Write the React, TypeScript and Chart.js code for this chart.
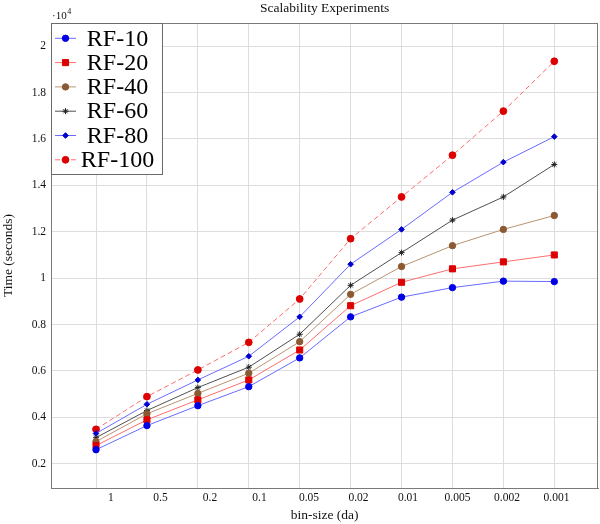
import React, { useEffect, useRef } from 'react';
import { Chart, registerables } from 'chart.js';
import { drawPoint } from 'chart.js/helpers';

Chart.register(...registerables);

// ---- data ----
const binSizes = ['1', '0.5', '0.2', '0.1', '0.05', '0.02', '0.01', '0.005', '0.002', '0.001'];
const seriesNames = ['RF-10', 'RF-20', 'RF-40', 'RF-60', 'RF-80', 'RF-100'];
const rf10 = [2600, 3640, 4500, 5320, 6560, 8330, 9180, 9590, 9870, 9850];
const rf20 = [2780, 3890, 4750, 5610, 6900, 8810, 9820, 10400, 10700, 11000];
const rf40 = [2950, 4150, 5030, 5900, 7260, 9300, 10500, 11400, 12100, 12700];
const rf60 = [3120, 4290, 5280, 6160, 7580, 9690, 11100, 12500, 13500, 14900];
const rf80 = [3300, 4560, 5610, 6630, 8330, 10600, 12100, 13700, 15000, 16100];
const rf100 = [3480, 4890, 6040, 7230, 9100, 11700, 13500, 15300, 17200, 19350];
const yTicks = [2000, 4000, 6000, 8000, 10000, 12000, 14000, 16000, 18000, 20000];

const FONT = '"Liberation Serif", "DejaVu Serif", serif';

type Style = {
  line: string;
  point: string;
  pointStyle: string;
  radius: number;
  dash: number[];
};

const styles: Style[] = [
  { line: '#6b6bff', point: '#0000e6', pointStyle: 'circle', radius: 3.2, dash: [] },
  { line: '#ff6e6e', point: '#dd0000', pointStyle: 'rect', radius: 4.3, dash: [] },
  { line: '#b89470', point: '#8c5a32', pointStyle: 'circle', radius: 3.2, dash: [] },
  { line: '#505050', point: '#202020', pointStyle: 'star', radius: 3, dash: [] },
  { line: '#6b6bff', point: '#0000d0', pointStyle: 'rectRot', radius: 2.8, dash: [] },
  { line: '#ff6e6e', point: '#dd0000', pointStyle: 'circle', radius: 3.4, dash: [5, 3] },
];

const allSeries = [rf10, rf20, rf40, rf60, rf80, rf100];

const decorPlugin = {
  id: 'decor',
  beforeDraw(chart: any) {
    const ctx = chart.ctx;
    ctx.save();
    ctx.fillStyle = '#ffffff';
    ctx.fillRect(0, 0, chart.width, chart.height);
    ctx.restore();
  },
  afterDatasetsDraw(chart: any) {
    const ctx = chart.ctx;
    const a = chart.chartArea;
    ctx.save();
    // plot frame
    ctx.strokeStyle = '#7a7a7a';
    ctx.lineWidth = 1;
    ctx.strokeRect(Math.round(a.left) + 0.5, Math.round(a.top) + 0.5, Math.round(a.right - a.left) - 1, Math.round(a.bottom - a.top));

    // title
    ctx.fillStyle = '#111';
    ctx.font = `13.5px ${FONT}`;
    ctx.textAlign = 'center';
    ctx.textBaseline = 'middle';
    ctx.fillText('Scalability Experiments', (a.left + a.right) / 2, 8);

    // ·10^4 multiplier
    ctx.textAlign = 'left';
    ctx.font = `11px ${FONT}`;
    ctx.fillText('·10', a.left + 1, 16);
    const w = ctx.measureText('·10').width;
    ctx.font = `8px ${FONT}`;
    ctx.fillText('4', a.left + 1 + w + 0.5, 12);

    // legend
    const lx = a.left;
    const ly = a.top;
    const lw = 111;
    const lh = 151;
    ctx.fillStyle = '#ffffff';
    ctx.fillRect(lx, ly, lw, lh);
    ctx.strokeStyle = '#6a6a6a';
    ctx.strokeRect(Math.round(lx) + 0.5, Math.round(ly) + 0.5, lw, lh);
    chart.data.datasets.forEach((ds: any, i: number) => {
      const s = styles[i];
      const y = ly + 15.3 + 24.3 * i;
      ctx.save();
      ctx.strokeStyle = s.line;
      ctx.lineWidth = 1;
      ctx.setLineDash(s.dash);
      ctx.beginPath();
      ctx.moveTo(lx + 4, y);
      ctx.lineTo(lx + 25, y);
      ctx.stroke();
      ctx.restore();
      ctx.save();
      ctx.fillStyle = s.point;
      ctx.strokeStyle = s.point;
      ctx.lineWidth = 1;
      drawPoint(ctx, { pointStyle: s.pointStyle, radius: s.radius, rotation: 0, borderWidth: 1 } as any, lx + 14.5, y);
      ctx.restore();
      ctx.fillStyle = '#000';
      ctx.font = `24px ${FONT}`;
      ctx.textAlign = 'center';
      ctx.textBaseline = 'middle';
      ctx.fillText(ds.label, lx + 66.5, y + 1);
    });
    ctx.restore();
  },
};

export default function App() {
  const ref = useRef<HTMLCanvasElement | null>(null);

  useEffect(() => {
    if (!ref.current) return;
    const datasets = allSeries.map((vals, i) => ({
      label: seriesNames[i],
      data: vals.map((v, j) => ({ x: j, y: v })),
      borderColor: styles[i].line,
      backgroundColor: styles[i].point,
      pointBackgroundColor: styles[i].point,
      pointBorderColor: styles[i].point,
      pointStyle: styles[i].pointStyle,
      pointRadius: styles[i].radius,
      pointHoverRadius: styles[i].radius,
      pointBorderWidth: 1,
      borderWidth: 1,
      borderDash: styles[i].dash,
      tension: 0,
      fill: false,
      xAxisID: 'x',
      yAxisID: 'y',
    }));

    const tickFont = { family: FONT, size: 11.5 };
    const titleFont = { family: FONT, size: 13.5 };

    const chart = new Chart(ref.current, {
      type: 'line',
      data: { datasets } as any,
      plugins: [decorPlugin],
      options: {
        animation: false,
        responsive: false,
        devicePixelRatio: 1,
        layout: { autoPadding: false, padding: { top: 23, right: 1.7, left: 0, bottom: 0 } },
        plugins: {
          legend: { display: false },
          title: { display: false },
          tooltip: { enabled: false },
        },
        scales: {
          x: {
            type: 'linear',
            position: 'bottom',
            min: -0.884,
            max: 9.864,
            afterBuildTicks: (s: any) => {
              s.ticks = binSizes.map((_, i) => ({ value: i }));
            },
            ticks: { display: false },
            grid: { color: '#dedede', lineWidth: 1, drawTicks: false },
            border: { display: true, color: '#7a7a7a' },
            afterFit: (s: any) => {
              s.height = 0;
            },
          },
          x2: {
            type: 'linear',
            position: 'bottom',
            min: -1.212,
            max: 9.845,
            afterBuildTicks: (s: any) => {
              s.ticks = binSizes.map((_, i) => ({ value: i }));
            },
            ticks: {
              callback: (v: any) => binSizes[v as number],
              font: tickFont,
              color: '#111',
              padding: 3,
              maxRotation: 0,
              autoSkip: false,
            },
            grid: { display: false, drawTicks: false },
            border: { display: false },
            title: {
              display: true,
              text: 'bin-size (da)',
              font: titleFont,
              color: '#111',
              padding: { top: 0, bottom: 0 },
            },
            afterFit: (s: any) => {
              s.height = 36;
            },
          },
          y: {
            type: 'linear',
            min: 950,
            max: 21000,
            afterBuildTicks: (s: any) => {
              s.ticks = yTicks.map((v) => ({ value: v }));
            },
            ticks: {
              callback: (v: any) => String(Number(v) / 10000),
              font: tickFont,
              color: '#111',
              padding: 5,
            },
            grid: { color: '#dedede', lineWidth: 1, drawTicks: false },
            border: { display: true, color: '#7a7a7a' },
            title: {
              display: true,
              text: 'Time (seconds)',
              font: titleFont,
              color: '#111',
              padding: { top: 0, bottom: 0 },
            },
            afterFit: (s: any) => {
              s.width = 51;
            },
          },
        },
      } as any,
    });
    return () => chart.destroy();
  }, []);

  return (
    <div style={{ position: 'absolute', left: 0, top: 0, width: 600, height: 524 }}>
      <canvas ref={ref} width={600} height={524} style={{ display: 'block', width: 600, height: 524 }} />
    </div>
  );
}
